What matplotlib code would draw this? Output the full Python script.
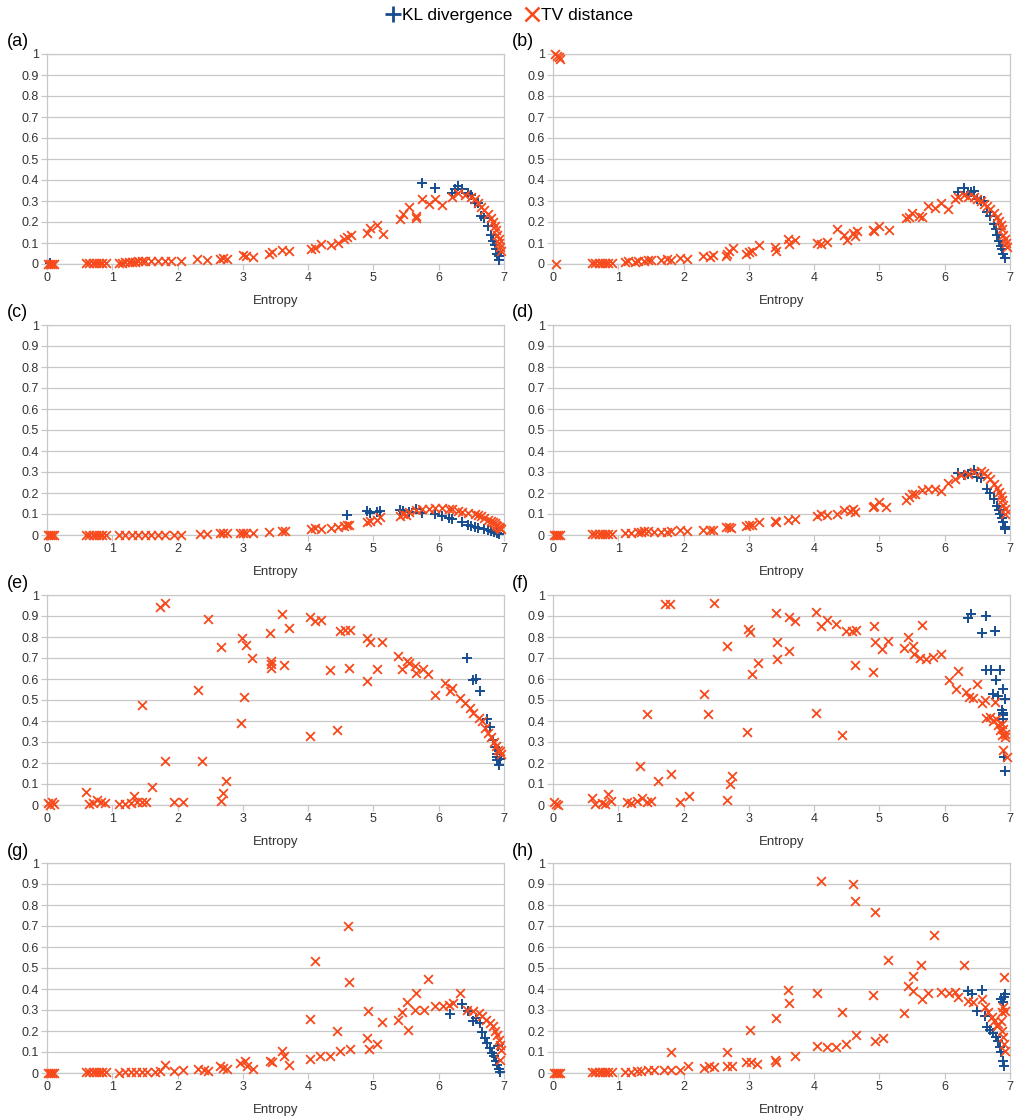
import matplotlib.pyplot as plt
from matplotlib.lines import Line2D

plt.rcParams['font.family'] = ['Liberation Sans', 'DejaVu Sans']

KL_COLOR = '#164d8f'
TV_COLOR = '#f74a1c'

# shared low-entropy x positions (values all near zero)
low_x = [0.02, 0.05, 0.08, 0.1, 0.6, 0.65, 0.7, 0.75, 0.8, 0.85, 0.9]

# ---- panel (a)
a_tv_x = low_x + [1.1, 1.15, 1.2, 1.25, 1.3, 1.35, 1.4, 1.45, 1.5, 1.6, 1.7, 1.8, 1.9, 2.05,
                  2.3, 2.45, 2.65, 2.7, 2.75, 3.0, 3.05, 3.15, 3.4, 3.45, 3.6, 3.7,
                  4.05, 4.1, 4.2, 4.35, 4.45, 4.55, 4.6, 4.65, 4.9, 4.95, 5.05, 5.15,
                  5.4, 5.45, 5.55, 5.65, 5.65, 5.75, 5.85, 5.95, 6.05, 6.2, 6.3, 6.4,
                  6.5, 6.55, 6.6, 6.65, 6.7, 6.75, 6.8, 6.83, 6.86, 6.88, 6.9, 6.92, 6.93, 6.94, 6.95]
a_tv_y = [0, 0, 0, 0, 0.003, 0.003, 0.003, 0.003, 0.003, 0.003, 0.003,
          0.005, 0.006, 0.008, 0.009, 0.01, 0.011, 0.012, 0.012, 0.012, 0.012, 0.013, 0.013, 0.012, 0.012,
          0.025, 0.018, 0.025, 0.03, 0.025, 0.045, 0.04, 0.035, 0.05, 0.055, 0.065, 0.06,
          0.07, 0.075, 0.095, 0.09, 0.1, 0.12, 0.13, 0.14, 0.15, 0.17, 0.185, 0.145,
          0.215, 0.24, 0.27, 0.23, 0.22, 0.31, 0.285, 0.31, 0.28, 0.32, 0.34, 0.33,
          0.32, 0.31, 0.29, 0.27, 0.255, 0.24, 0.22, 0.2, 0.18, 0.16, 0.14, 0.12, 0.1, 0.08, 0.06]
a_kl_x = [0.05, 5.75, 5.95, 6.2, 6.25, 6.3, 6.35, 6.45, 6.5, 6.55, 6.6,
          6.65, 6.7, 6.75, 6.8, 6.83, 6.86, 6.88, 6.9, 6.92, 6.93]
a_kl_y = [0.003, 0.385, 0.36, 0.34, 0.355, 0.37, 0.355, 0.34, 0.33,
          0.29, 0.29, 0.23, 0.22, 0.18, 0.14, 0.11, 0.09, 0.07, 0.05, 0.04, 0.02]

# ---- panel (b)
b_tv_x = [0.03, 0.06, 0.09, 0.1, 0.05, 0.6, 0.65, 0.7, 0.75, 0.8, 0.85, 0.9,
          1.1, 1.15, 1.25, 1.3, 1.4, 1.45, 1.5, 1.65, 1.75, 1.8, 1.95, 2.05,
          2.3, 2.4, 2.45, 2.65, 2.67, 2.7, 2.75, 2.95, 3.0, 3.05, 3.15, 3.4, 3.42,
          3.6, 3.62, 3.7, 4.05, 4.1, 4.2, 4.35, 4.45, 4.5, 4.6, 4.62, 4.65,
          4.9, 4.92, 5.0, 5.15, 5.4, 5.45, 5.5, 5.6, 5.65, 5.75, 5.85, 5.95, 6.05, 6.15,
          6.2, 6.3, 6.35, 6.45, 6.5, 6.55, 6.6, 6.65, 6.7, 6.75, 6.8, 6.83, 6.86, 6.88,
          6.9, 6.92, 6.94, 6.95]
b_tv_y = [1.0, 0.99, 0.985, 0.975, 0.0, 0.003, 0.003, 0.003, 0.003, 0.003, 0.004, 0.004,
          0.01, 0.015, 0.01, 0.012, 0.015, 0.02, 0.018, 0.02, 0.025, 0.02, 0.03, 0.025,
          0.04, 0.035, 0.045, 0.04, 0.05, 0.06, 0.075, 0.05, 0.055, 0.06, 0.09, 0.08, 0.06,
          0.12, 0.095, 0.115, 0.1, 0.095, 0.105, 0.165, 0.14, 0.115, 0.15, 0.135, 0.155,
          0.16, 0.155, 0.18, 0.16, 0.22, 0.225, 0.245, 0.23, 0.225, 0.275, 0.265, 0.29, 0.26, 0.31,
          0.32, 0.33, 0.32, 0.32, 0.31, 0.3, 0.285, 0.275, 0.26, 0.245, 0.225, 0.205, 0.185, 0.165,
          0.14, 0.12, 0.1, 0.08]
b_kl_x = [6.2, 6.3, 6.35, 6.4, 6.45, 6.5, 6.55, 6.6, 6.65, 6.7,
          6.75, 6.78, 6.8, 6.83, 6.86, 6.88, 6.9, 6.92]
b_kl_y = [0.345, 0.36, 0.335, 0.345, 0.35, 0.31, 0.3, 0.3, 0.25, 0.23,
          0.19, 0.165, 0.14, 0.11, 0.085, 0.07, 0.05, 0.03]

# ---- panel (c)
c_tv_x = low_x + [1.1, 1.2, 1.3, 1.4, 1.5, 1.6, 1.7, 1.8, 1.95, 2.05, 2.35, 2.45, 2.65, 2.7, 2.75,
                  2.95, 3.0, 3.05, 3.15, 3.4, 3.6, 3.65, 4.05, 4.1, 4.2, 4.35, 4.45, 4.55, 4.6, 4.62,
                  4.9, 4.95, 5.05, 5.1, 5.4, 5.45, 5.5, 5.55, 5.65, 5.75, 5.85, 5.95, 6.05,
                  6.15, 6.2, 6.3, 6.35, 6.45, 6.55, 6.6, 6.65, 6.7, 6.75, 6.8, 6.83, 6.86,
                  6.88, 6.9, 6.92, 6.94, 6.95]
c_tv_y = [0, 0, 0, 0, 0, 0, 0, 0, 0, 0, 0,
          0.002, 0.002, 0.002, 0.002, 0.002, 0.002, 0.002, 0.002, 0.002, 0.002, 0.005, 0.005,
          0.008, 0.008, 0.008, 0.01, 0.01, 0.01, 0.01, 0.015, 0.02, 0.02, 0.03, 0.035, 0.03,
          0.035, 0.04, 0.045, 0.05, 0.05, 0.06, 0.065, 0.07, 0.085, 0.09, 0.1, 0.095, 0.11,
          0.12, 0.125, 0.125, 0.13, 0.13, 0.125, 0.125, 0.115, 0.11, 0.105, 0.1, 0.095, 0.09,
          0.08, 0.07, 0.065, 0.06, 0.055, 0.05, 0.045, 0.04, 0.035, 0.03]
c_kl_x = [4.6, 4.9, 4.95, 5.05, 5.1, 5.4, 5.45, 5.55, 5.65, 5.75, 5.95,
          6.05, 6.15, 6.2, 6.35, 6.45, 6.5, 6.55, 6.6, 6.7, 6.75, 6.8, 6.85, 6.9, 6.93]
c_kl_y = [0.095, 0.115, 0.105, 0.11, 0.115, 0.12, 0.115, 0.11, 0.125,
          0.105, 0.1, 0.09, 0.08, 0.075, 0.06, 0.05, 0.045, 0.04, 0.035, 0.03, 0.025, 0.02, 0.015,
          0.008, 0.003]

# ---- panel (d)
d_tv_x = low_x + [1.1, 1.2, 1.3, 1.35, 1.4, 1.45, 1.55, 1.65, 1.75, 1.8, 1.95, 2.05,
                  2.3, 2.4, 2.45, 2.65, 2.7, 2.72, 2.95, 3.0, 3.05, 3.15, 3.4, 3.42, 3.6, 3.7,
                  4.05, 4.1, 4.2, 4.35, 4.45, 4.55, 4.6, 4.62, 4.9, 4.92, 5.0, 5.1,
                  5.4, 5.45, 5.5, 5.55, 5.65, 5.75, 5.85, 5.95, 6.05, 6.15, 6.25, 6.35, 6.45,
                  6.55, 6.6, 6.65, 6.7, 6.75, 6.8, 6.83, 6.86, 6.88, 6.9, 6.92, 6.93]
d_tv_y = [0, 0, 0, 0, 0.003, 0.003, 0.004, 0.004, 0.005, 0.005, 0.005,
          0.01, 0.01, 0.012, 0.015, 0.02, 0.02, 0.015, 0.015, 0.015, 0.018, 0.025, 0.02,
          0.025, 0.025, 0.025, 0.04, 0.04, 0.035, 0.045, 0.05, 0.05, 0.06, 0.065, 0.06, 0.07, 0.075,
          0.09, 0.1, 0.095, 0.1, 0.12, 0.115, 0.125, 0.11, 0.135, 0.14, 0.155, 0.135,
          0.165, 0.18, 0.195, 0.195, 0.215, 0.22, 0.22, 0.21, 0.25, 0.265, 0.285, 0.29, 0.3,
          0.305, 0.295, 0.28, 0.265, 0.245, 0.225, 0.205, 0.185, 0.165, 0.145, 0.125, 0.1]
d_kl_x = [6.2, 6.3, 6.35, 6.45, 6.5, 6.55, 6.65, 6.7, 6.75, 6.8,
          6.83, 6.85, 6.87, 6.9, 6.92, 6.93]
d_kl_y = [0.295, 0.285, 0.29, 0.31, 0.275, 0.27, 0.22, 0.2, 0.17,
          0.14, 0.12, 0.1, 0.08, 0.06, 0.04, 0.03]

# ---- panel (e)
e_tv_x = [0.02, 0.05, 0.08, 0.1, 0.6, 0.65, 0.7, 0.77, 0.82, 0.89, 1.1, 1.2, 1.28, 1.33, 1.38,
          1.45, 1.52, 1.61, 1.45, 1.73, 1.8, 1.8, 1.94, 2.08, 2.32, 2.38, 2.46, 2.66, 2.69, 2.74,
          2.67, 2.97, 2.99, 3.01, 3.05, 3.14, 3.41, 3.43, 3.43, 3.43, 3.6, 3.63, 3.7,
          4.03, 4.03, 4.1, 4.19, 4.34, 4.44, 4.49, 4.57, 4.63, 4.64, 4.9, 4.9, 4.95, 5.05, 5.13,
          5.37, 5.43, 5.52, 5.55, 5.64, 5.65, 5.76, 5.83, 5.94, 6.09, 6.18, 6.21, 6.33,
          6.4, 6.48, 6.53, 6.61, 6.66, 6.71, 6.76, 6.8, 6.84, 6.88, 6.91, 6.94, 6.95]
e_tv_y = [0.01, 0.0, 0.015, 0.005, 0.061, 0.005, 0.008, 0.024, 0.013, 0.008, 0.004, 0.005, 0.008,
          0.045, 0.015, 0.013, 0.016, 0.085, 0.474, 0.944, 0.962, 0.21, 0.013, 0.016, 0.55, 0.21,
          0.885, 0.019, 0.059, 0.112, 0.754, 0.391, 0.797, 0.514, 0.761, 0.699, 0.817, 0.686,
          0.67, 0.654, 0.909, 0.668, 0.845, 0.893, 0.33, 0.874, 0.882, 0.641, 0.356, 0.829,
          0.833, 0.654, 0.833, 0.797, 0.59, 0.778, 0.646, 0.778, 0.71, 0.649, 0.686, 0.678,
          0.662, 0.63, 0.65, 0.622, 0.526, 0.582, 0.545, 0.558, 0.51, 0.486, 0.463, 0.439,
          0.415, 0.399, 0.367, 0.343, 0.322, 0.3, 0.279, 0.263, 0.255, 0.242]
e_kl_x = [6.44, 6.52, 6.57, 6.63, 6.74, 6.79, 6.83, 6.86, 6.89, 6.9, 6.9, 6.92, 6.94]
e_kl_y = [0.70, 0.593, 0.598, 0.542, 0.41, 0.372, 0.311, 0.276, 0.244, 0.23, 0.212, 0.19, 0.22]

# ---- panel (f)
f_tv_x = [0.01, 0.04, 0.08, 0.59, 0.65, 0.75, 0.8, 0.85, 0.89, 1.13, 1.2, 1.28, 1.33, 1.36, 1.44,
          1.5, 1.44, 1.61, 1.72, 1.79, 1.81, 1.94, 2.08, 2.32, 2.38, 2.46, 2.66, 2.66, 2.71, 2.74,
          2.97, 2.99, 3.01, 3.05, 3.14, 3.41, 3.43, 3.43, 3.61, 3.62, 3.71,
          4.03, 4.03, 4.11, 4.19, 4.34, 4.43, 4.49, 4.58, 4.62, 4.64, 4.9, 4.91, 4.93, 5.04, 5.13,
          5.37, 5.43, 5.52, 5.53, 5.62, 5.65, 5.72, 5.82, 5.94, 6.07, 6.17, 6.2, 6.32, 6.37,
          6.44, 6.5, 6.57, 6.62, 6.64, 6.69, 6.74, 6.77, 6.79, 6.82, 6.85, 6.87, 6.88, 6.9,
          6.92, 6.93, 6.9, 6.95]
f_tv_y = [0.013, 0.005, 0.0, 0.032, 0.005, 0.01, 0.005, 0.053, 0.018, 0.013, 0.01, 0.02, 0.188,
          0.032, 0.013, 0.02, 0.433, 0.116, 0.957, 0.955, 0.146, 0.016, 0.041, 0.53, 0.432, 0.96,
          0.758, 0.025, 0.1, 0.14, 0.35, 0.838, 0.822, 0.626, 0.678, 0.912, 0.777, 0.693,
          0.893, 0.734, 0.877, 0.917, 0.438, 0.852, 0.879, 0.86, 0.331, 0.828, 0.828, 0.666,
          0.831, 0.634, 0.852, 0.774, 0.745, 0.78, 0.748, 0.8, 0.758, 0.718, 0.702, 0.857,
          0.694, 0.705, 0.717, 0.594, 0.554, 0.637, 0.538, 0.514, 0.51, 0.578, 0.486, 0.498,
          0.414, 0.419, 0.398, 0.49, 0.411, 0.379, 0.355, 0.387, 0.331, 0.363, 0.339, 0.323,
          0.26, 0.228]
f_kl_x = [6.35, 6.41, 6.64, 6.57, 6.77, 6.63, 6.71, 6.85, 6.79, 6.74, 6.82, 6.9, 6.92, 6.87,
          6.89, 6.9, 6.9, 6.91, 6.93]
f_kl_y = [0.892, 0.908, 0.9, 0.817, 0.828, 0.642, 0.642, 0.642, 0.594, 0.527, 0.519, 0.554,
          0.506, 0.451, 0.43, 0.411, 0.44, 0.228, 0.164]

# ---- panel (g)
g_tv_x = low_x + [1.1, 1.2, 1.28, 1.37, 1.45, 1.53, 1.65, 1.73, 1.81, 1.94, 2.08, 2.32, 2.41,
                  2.47, 2.65, 2.69, 2.76, 2.96, 3.03, 3.06, 3.15, 3.41, 3.44, 3.6, 3.63, 3.71,
                  4.03, 4.03, 4.11, 4.18, 4.34, 4.44, 4.49, 4.61, 4.63, 4.64, 4.9, 4.91, 4.93,
                  5.05, 5.13, 5.37, 5.43, 5.52, 5.53, 5.63, 5.65, 5.77, 5.83, 5.94, 6.07, 6.15,
                  6.22, 6.32, 6.43, 6.53, 6.61, 6.67, 6.73, 6.79, 6.83, 6.86, 6.9, 6.92, 6.94,
                  6.95, 6.94]
g_tv_y = [0, 0, 0, 0, 0.003, 0.003, 0.003, 0.003, 0.003, 0.003, 0.003,
          0.0, 0.003, 0.005, 0.005, 0.003, 0.003, 0.005, 0.008, 0.04, 0.011, 0.013, 0.019, 0.016,
          0.011, 0.035, 0.024, 0.019, 0.048, 0.056, 0.032, 0.019, 0.056, 0.052, 0.103, 0.079,
          0.04, 0.067, 0.259, 0.532, 0.083, 0.083, 0.202, 0.103, 0.702, 0.433, 0.116, 0.167,
          0.294, 0.116, 0.138, 0.241, 0.251, 0.289, 0.337, 0.206, 0.298, 0.381, 0.298, 0.449,
          0.321, 0.321, 0.325, 0.333, 0.381, 0.302, 0.294, 0.286, 0.27, 0.254, 0.238, 0.222,
          0.198, 0.183, 0.159, 0.135, 0.111, 0.063]
g_kl_x = [6.18, 6.35, 6.45, 6.52, 6.57, 6.63, 6.67, 6.71, 6.74, 6.79,
          6.82, 6.85, 6.88, 6.9, 6.92, 6.94, 6.91]
g_kl_y = [0.283, 0.33, 0.294, 0.246, 0.262, 0.238, 0.194, 0.167,
          0.143, 0.119, 0.095, 0.079, 0.056, 0.04, 0.019, 0.003, 0.127]

# ---- panel (h)
h_tv_x = low_x + [1.1, 1.2, 1.28, 1.35, 1.45, 1.55, 1.7, 1.81, 1.81, 1.95, 2.07, 2.32, 2.39,
                  2.46, 2.66, 2.66, 2.74, 2.96, 3.01, 3.04, 3.13, 3.4, 3.41, 3.42, 3.6, 3.62,
                  3.71, 4.04, 4.04, 4.11, 4.19, 4.34, 4.43, 4.49, 4.6, 4.62, 4.64, 4.9, 4.93,
                  4.93, 5.05, 5.13, 5.38, 5.43, 5.52, 5.52, 5.64, 5.65, 5.75, 5.83, 5.94, 6.07,
                  6.16, 6.21, 6.3, 6.36, 6.44, 6.57, 6.62, 6.67, 6.72, 6.76, 6.8, 6.82, 6.86,
                  6.87, 6.87, 6.9, 6.9, 6.91, 6.91, 6.92, 6.92]
h_tv_y = [0, 0, 0, 0, 0.003, 0.003, 0.003, 0.003, 0.003, 0.003, 0.003,
          0.005, 0.006, 0.008, 0.01, 0.012, 0.012, 0.015, 0.098, 0.015, 0.016, 0.032, 0.024,
          0.035, 0.027, 0.098, 0.035, 0.035, 0.051, 0.205, 0.054, 0.043, 0.062, 0.262, 0.051,
          0.397, 0.333, 0.083, 0.13, 0.379, 0.916, 0.125, 0.125, 0.289, 0.138, 0.9, 0.817,
          0.183, 0.373, 0.154, 0.765, 0.167, 0.538, 0.286, 0.416, 0.463, 0.389, 0.516, 0.352,
          0.379, 0.657, 0.384, 0.379, 0.384, 0.36, 0.516, 0.344, 0.336, 0.352, 0.313, 0.289,
          0.265, 0.246, 0.225, 0.233, 0.249, 0.202, 0.289, 0.313, 0.17, 0.456, 0.138, 0.106,
          0.297]
h_kl_x = [6.36, 6.42, 6.57, 6.49, 6.62, 6.65, 6.69, 6.74, 6.78, 6.82,
          6.84, 6.86, 6.89, 6.91, 6.86, 6.89, 6.92, 6.91]
h_kl_y = [0.392, 0.376, 0.395, 0.297, 0.273, 0.221, 0.206, 0.189,
          0.17, 0.151, 0.122, 0.102, 0.059, 0.035, 0.352, 0.336, 0.376, 0.36]

panels = [
    ('(a)', a_kl_x, a_kl_y, a_tv_x, a_tv_y),
    ('(b)', b_kl_x, b_kl_y, b_tv_x, b_tv_y),
    ('(c)', c_kl_x, c_kl_y, c_tv_x, c_tv_y),
    ('(d)', d_kl_x, d_kl_y, d_tv_x, d_tv_y),
    ('(e)', e_kl_x, e_kl_y, e_tv_x, e_tv_y),
    ('(f)', f_kl_x, f_kl_y, f_tv_x, f_tv_y),
    ('(g)', g_kl_x, g_kl_y, g_tv_x, g_tv_y),
    ('(h)', h_kl_x, h_kl_y, h_tv_x, h_tv_y),
]

W, H = 1017, 1118
fig = plt.figure(figsize=(W / 100, H / 100), dpi=100)

col_left = [47, 553]
row_bottom = [264, 535, 805, 1073]
ax_w, ax_h = 457, 210
label_y = [41, 312, 584, 852]
label_x = [7, 512]

for i, (name, kx, ky, tx, ty) in enumerate(panels):
    r, c = divmod(i, 2)
    ax = fig.add_axes([col_left[c] / W, (H - row_bottom[r]) / H, ax_w / W, ax_h / H])
    ax.scatter(kx, ky, marker='+', s=48, color=KL_COLOR, linewidths=1.4, zorder=3, clip_on=False)
    ax.scatter(tx, ty, marker='x', s=40, color=TV_COLOR, linewidths=1.3, zorder=4, clip_on=False)
    ax.set_xlim(0, 7)
    ax.set_ylim(0, 1)
    ax.set_xticks(range(8))
    ax.set_yticks([i / 10 for i in range(11)])
    ax.set_yticklabels(['0', '0.1', '0.2', '0.3', '0.4', '0.5', '0.6', '0.7', '0.8', '0.9', '1'])
    ax.grid(axis='y', color='#c8c8c8', linewidth=0.9)
    ax.set_axisbelow(True)
    for s in ax.spines.values():
        s.set_color('#c8c8c8')
        s.set_linewidth(0.9)
    ax.tick_params(colors='#c8c8c8', labelcolor='#333333', labelsize=9, length=4, width=0.9, pad=2)
    ax.set_xlabel('Entropy', fontsize=9.5, color='#333333', labelpad=8)
    fig.text(label_x[c] / W, (H - label_y[r]) / H, name, fontsize=13, va='center', ha='left')

handles = [
    Line2D([], [], linestyle='none', marker='+', markersize=11, markeredgewidth=2, color=KL_COLOR),
    Line2D([], [], linestyle='none', marker='x', markersize=10, markeredgewidth=1.8, color=TV_COLOR),
]
fig.legend(handles, ['KL divergence', 'TV distance'], loc='center', bbox_to_anchor=(0.5, 1 - 15 / H),
           ncol=2, frameon=False, fontsize=12.5, handletextpad=0.05, columnspacing=0.6,
           handlelength=1.0, borderaxespad=0)

fig.savefig('out.png', dpi=100)
